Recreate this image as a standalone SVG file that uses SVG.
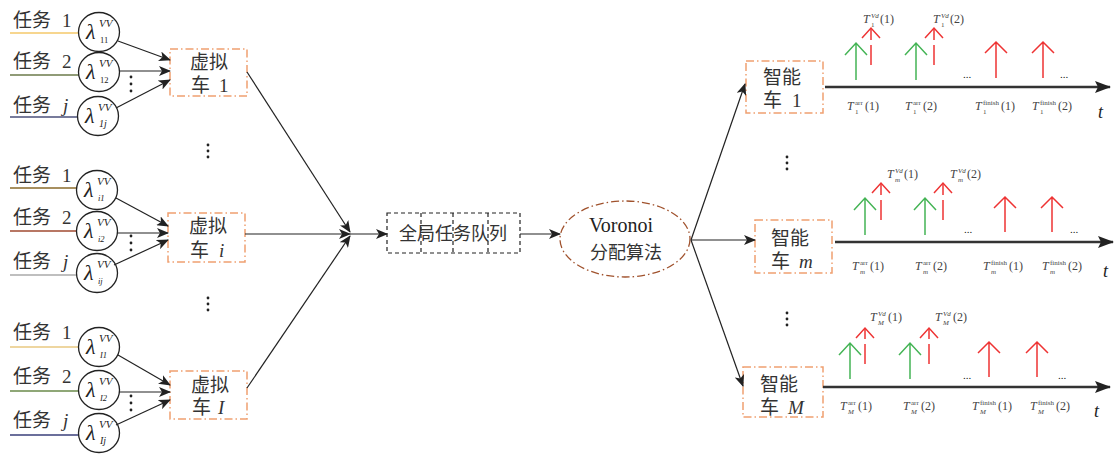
<svg xmlns="http://www.w3.org/2000/svg" width="1115" height="455" viewBox="0 0 1115 455">
<defs>
<style>
.cjk{font-family:"Liberation Serif","Noto Sans CJK SC",serif;font-size:18px;fill:#333}
.tk{font-size:19px}
.ser{font-family:"Liberation Serif","DejaVu Serif",serif;fill:#222}
.it{font-style:italic}
.sm{font-size:7px}
.lbl{font-size:12px;fill:#444}
.circ{fill:#fff;stroke:#222;stroke-width:1.3}
.lam{font-size:22px}
.sup{font-size:11px}
.sub{font-size:8.5px}
.vbox{fill:#fff;stroke:#f0a070;stroke-width:1.5;stroke-dasharray:8 3 1.5 3}
.conn{stroke:#222;stroke-width:1.2;fill:none}
.grn{stroke:#44b455;stroke-width:1.5;fill:none}
.red{stroke:#ee3333;stroke-width:1.5;fill:none}
.redd{stroke:#ee3333;stroke-width:1.5;fill:none}
.axis{stroke:#333;stroke-width:2.5;fill:none}
</style>
<marker id="ah" viewBox="0 0 12 10" refX="11" refY="5" markerWidth="12" markerHeight="10" markerUnits="userSpaceOnUse" orient="auto">
<path d="M0,0 L12,5 L0,10 L3,5 z" fill="#222"/>
</marker>
<marker id="ahb" viewBox="0 0 16 12" refX="15" refY="6" markerWidth="16" markerHeight="12" markerUnits="userSpaceOnUse" orient="auto">
<path d="M0,0 L16,6 L0,12 L3,6 z" fill="#222"/>
</marker>
</defs>
<rect width="1115" height="455" fill="#fff"/>

<!-- task lines -->
<g id="task-lines" stroke-width="1.5">
<line x1="10" y1="33" x2="79" y2="33" stroke="#f5c96a"/>
<line x1="10" y1="75" x2="79" y2="75" stroke="#6b7a4a"/>
<line x1="10" y1="117" x2="79" y2="117" stroke="#4a4f7a"/>
<line x1="10" y1="188" x2="78" y2="188" stroke="#8a6a2a"/>
<line x1="10" y1="231" x2="78" y2="231" stroke="#a04a30"/>
<line x1="10" y1="275" x2="78" y2="275" stroke="#aaaaaa"/>
<line x1="10" y1="347" x2="80" y2="347" stroke="#e8c880"/>
<line x1="10" y1="391" x2="80" y2="391" stroke="#6a8a4a"/>
<line x1="10" y1="435" x2="80" y2="435" stroke="#3a3f7a"/>
</g>
<g id="task-labels" class="cjk tk">
<text x="13" y="27">任务<tspan x="62">1</tspan></text>
<text x="13" y="68">任务<tspan x="62">2</tspan></text>
<text x="13" y="112">任务<tspan x="63" class="it">j</tspan></text>
<text x="13" y="182">任务<tspan x="62">1</tspan></text>
<text x="13" y="224">任务<tspan x="62">2</tspan></text>
<text x="13" y="268">任务<tspan x="63" class="it">j</tspan></text>
<text x="13" y="339">任务<tspan x="62">1</tspan></text>
<text x="13" y="383">任务<tspan x="62">2</tspan></text>
<text x="13" y="427">任务<tspan x="63" class="it">j</tspan></text>
</g>

<!-- lambda nodes -->
<g id="lam-11"><ellipse class="circ" cx="99" cy="32" rx="20.5" ry="19.5"/><text class="ser it lam" x="86" y="39">λ</text><text class="ser it sup" x="99" y="27">VV</text><text class="ser sub" x="100" y="43">11</text></g>
<g id="lam-12"><ellipse class="circ" cx="99" cy="72" rx="20.5" ry="19.5"/><text class="ser it lam" x="86" y="79">λ</text><text class="ser it sup" x="99" y="67">VV</text><text class="ser sub" x="100" y="83">12</text></g>
<g id="lam-1j"><ellipse class="circ" cx="98" cy="116" rx="20.5" ry="19.5"/><text class="ser it lam" x="85" y="123">λ</text><text class="ser it sup" x="98" y="111">VV</text><text class="ser it" x="99" y="127" font-size="10">1j</text></g>

<g id="lam-i1"><ellipse class="circ" cx="97" cy="190" rx="20.5" ry="19.5"/><text class="ser it lam" x="84" y="197">λ</text><text class="ser it sup" x="97" y="185">VV</text><text class="ser it sub" x="98" y="201">i1</text></g>
<g id="lam-i2"><ellipse class="circ" cx="97" cy="231" rx="20.5" ry="19.5"/><text class="ser it lam" x="84" y="238">λ</text><text class="ser it sup" x="97" y="226">VV</text><text class="ser it sub" x="98" y="242">i2</text></g>
<g id="lam-ij"><ellipse class="circ" cx="97" cy="273" rx="20.5" ry="19.5"/><text class="ser it lam" x="84" y="280">λ</text><text class="ser it sup" x="97" y="268">VV</text><text class="ser it sub" x="98" y="284">ij</text></g>

<g id="lam-I1"><ellipse class="circ" cx="99" cy="347" rx="20.5" ry="19.5"/><text class="ser it lam" x="86" y="354">λ</text><text class="ser it sup" x="99" y="342">VV</text><text class="ser it sub" x="100" y="358">I1</text></g>
<g id="lam-I2"><ellipse class="circ" cx="99" cy="390" rx="20.5" ry="19.5"/><text class="ser it lam" x="86" y="397">λ</text><text class="ser it sup" x="99" y="385">VV</text><text class="ser it sub" x="100" y="401">I2</text></g>
<g id="lam-Ij"><ellipse class="circ" cx="99" cy="433" rx="20.5" ry="19.5"/><text class="ser it lam" x="86" y="440">λ</text><text class="ser it sup" x="99" y="428">VV</text><text class="ser it" x="100" y="444" font-size="10">Ij</text></g>

<!-- vertical dots -->
<g id="vdots" fill="#222">
<circle cx="131" cy="77" r="1.4"/><circle cx="131" cy="84" r="1.4"/><circle cx="131" cy="91" r="1.4"/>
<circle cx="131" cy="236" r="1.4"/><circle cx="131" cy="243" r="1.4"/><circle cx="131" cy="250" r="1.4"/>
<circle cx="131" cy="396" r="1.4"/><circle cx="131" cy="403" r="1.4"/><circle cx="131" cy="410" r="1.4"/>
<circle cx="208" cy="145" r="1.4"/><circle cx="208" cy="151" r="1.4"/><circle cx="208" cy="157" r="1.4"/>
<circle cx="208" cy="298" r="1.4"/><circle cx="208" cy="304" r="1.4"/><circle cx="208" cy="310" r="1.4"/>
<circle cx="787" cy="157" r="1.4"/><circle cx="787" cy="163" r="1.4"/><circle cx="787" cy="169" r="1.4"/>
<circle cx="787" cy="313" r="1.4"/><circle cx="787" cy="319" r="1.4"/><circle cx="787" cy="325" r="1.4"/>
</g>

<!-- virtual vehicles -->
<g id="vv-1"><rect class="vbox" x="170" y="49" width="77" height="47"/><text class="cjk tk" x="190" y="69">虚拟</text><text class="cjk tk" x="191" y="92">车<tspan x="219">1</tspan></text></g>
<g id="vv-i"><rect class="vbox" x="168" y="213" width="77" height="49"/><text class="cjk tk" x="189" y="233">虚拟</text><text class="cjk tk" x="190" y="257">车<tspan x="219" class="it">i</tspan></text></g>
<g id="vv-I"><rect class="vbox" x="170" y="371" width="77" height="48"/><text class="cjk tk" x="191" y="392">虚拟</text><text class="cjk tk" x="192" y="414">车<tspan x="218" class="it">I</tspan></text></g>

<!-- global queue -->
<g id="queue">
<rect x="387" y="213" width="133" height="40" fill="#fff" stroke="#222" stroke-width="1.2" stroke-dasharray="4 3"/>
<line x1="421" y1="213" x2="421" y2="253" stroke="#222" stroke-width="1.2" stroke-dasharray="4 3"/>
<line x1="453" y1="213" x2="453" y2="253" stroke="#222" stroke-width="1.2" stroke-dasharray="4 3"/>
<line x1="488" y1="213" x2="488" y2="253" stroke="#222" stroke-width="1.2" stroke-dasharray="4 3"/>
<text class="cjk" x="453" y="240" text-anchor="middle">全局任务队列</text>
</g>

<!-- voronoi -->
<g id="voronoi">
<ellipse cx="625" cy="239" rx="65" ry="38" fill="#fff" stroke="#a0522d" stroke-width="1.3" stroke-dasharray="8 3 1.5 3"/>
<text class="ser" x="621" y="232" font-size="20" text-anchor="middle" fill="#333">Voronoi</text>
<text class="cjk" x="626" y="259" font-size="20" text-anchor="middle">分配算法</text>
</g>

<!-- smart vehicles -->
<g id="sv-1"><rect class="vbox" x="746" y="61" width="77" height="52"/><text class="cjk tk" x="763" y="84">智能</text><text class="cjk tk" x="763" y="107">车<tspan x="792">1</tspan></text></g>
<g id="sv-m"><rect class="vbox" x="755" y="220" width="77" height="53"/><text class="cjk tk" x="771" y="245">智能</text><text class="cjk tk" x="771" y="268">车<tspan x="799" class="it">m</tspan></text></g>
<g id="sv-M"><rect class="vbox" x="743" y="367" width="80" height="50"/><text class="cjk tk" x="760" y="391">智能</text><text class="cjk tk" x="760" y="414">车<tspan x="788" class="it">M</tspan></text></g>

<!-- connectors -->
<g id="connectors" class="conn">
<line x1="118" y1="41" x2="170" y2="60" marker-end="url(#ah)"/>
<line x1="119" y1="71" x2="170" y2="71" marker-end="url(#ah)"/>
<line x1="116" y1="108" x2="170" y2="80" marker-end="url(#ah)"/>
<line x1="116" y1="198" x2="168" y2="226" marker-end="url(#ah)"/>
<line x1="117" y1="233" x2="168" y2="233" marker-end="url(#ah)"/>
<line x1="114" y1="265" x2="168" y2="240" marker-end="url(#ah)"/>
<line x1="118" y1="355" x2="170" y2="385" marker-end="url(#ah)"/>
<line x1="119" y1="392" x2="170" y2="392" marker-end="url(#ah)"/>
<line x1="116" y1="425" x2="170" y2="400" marker-end="url(#ah)"/>
<line x1="247" y1="72" x2="350" y2="232" marker-end="url(#ah)"/>
<line x1="245" y1="234" x2="350" y2="234" marker-end="url(#ah)"/>
<line x1="247" y1="388" x2="350" y2="236" marker-end="url(#ah)"/>
<line x1="350" y1="234" x2="387" y2="234" marker-end="url(#ah)"/>
<line x1="520" y1="234" x2="560" y2="234" marker-end="url(#ah)"/>
<line x1="691" y1="240" x2="745" y2="84" marker-end="url(#ah)"/>
<line x1="691" y1="240" x2="755" y2="240" marker-end="url(#ah)"/>
<line x1="691" y1="240" x2="743" y2="386" marker-end="url(#ah)"/>
</g>

<!-- timelines -->
<g id="timeline-1">
<line class="axis" x1="825" y1="87" x2="1110" y2="87" marker-end="url(#ahb)"/>
<path class="grn" d="M856,80 V43 M845,55 L856,43 L867,55 M916,80 V43 M905,55 L916,43 L927,55"/>
<path class="redd" d="M871,65 V28 M934,65 V28" stroke-dasharray="20 5 15"/>
<path class="red" d="M862,38 L871,28 L880,38 M925,38 L934,28 L943,38"/>
<path class="red" d="M996,78 V42 M985,53 L996,42 L1007,53 M1043,78 V42 M1032,53 L1043,42 L1054,53"/>
<text class="ser" x="963" y="78" font-size="11">...</text>
<text class="ser" x="1060" y="78" font-size="11">...</text>
<text class="ser lbl" y="23"><tspan x="863" class="it">T</tspan><tspan x="871" dy="-5" class="sm it">Vd</tspan><tspan x="871" dy="9" class="sm">1</tspan><tspan x="880" dy="-4">(1)</tspan></text>
<text class="ser lbl" y="23"><tspan x="933" class="it">T</tspan><tspan x="941" dy="-5" class="sm it">Vd</tspan><tspan x="941" dy="9" class="sm">1</tspan><tspan x="950" dy="-4">(2)</tspan></text>
<text class="ser lbl" y="110"><tspan x="847" class="it">T</tspan><tspan x="855" dy="-5" class="sm">arr</tspan><tspan x="855" dy="9" class="sm">1</tspan><tspan x="865" dy="-4">(1)</tspan></text>
<text class="ser lbl" y="110"><tspan x="905" class="it">T</tspan><tspan x="913" dy="-5" class="sm">arr</tspan><tspan x="913" dy="9" class="sm">1</tspan><tspan x="923" dy="-4">(2)</tspan></text>
<text class="ser lbl" y="110"><tspan x="975" class="it">T</tspan><tspan x="983" dy="-5" class="sm">finish</tspan><tspan x="983" dy="9" class="sm">1</tspan><tspan x="1001" dy="-4">(1)</tspan></text>
<text class="ser lbl" y="110"><tspan x="1032" class="it">T</tspan><tspan x="1040" dy="-5" class="sm">finish</tspan><tspan x="1040" dy="9" class="sm">1</tspan><tspan x="1058" dy="-4">(2)</tspan></text>
<text class="ser it" x="1098" y="118" font-size="18">t</text>
</g>

<g id="timeline-m">
<line class="axis" x1="835" y1="242" x2="1113" y2="242" marker-end="url(#ahb)"/>
<path class="grn" d="M865,235 V198 M854,210 L865,198 L876,210 M925,235 V198 M914,210 L925,198 L936,210"/>
<path class="redd" d="M881,220 V183 M943,220 V183" stroke-dasharray="20 5 15"/>
<path class="red" d="M872,193 L881,183 L890,193 M934,193 L943,183 L952,193"/>
<path class="red" d="M1005,232 V197 M994,208 L1005,197 L1016,208 M1052,232 V197 M1041,208 L1052,197 L1063,208"/>
<text class="ser" x="964" y="233" font-size="11">...</text>
<text class="ser" x="1070" y="233" font-size="11">...</text>
<text class="ser lbl" y="178"><tspan x="887" class="it">T</tspan><tspan x="895" dy="-5" class="sm it">Vd</tspan><tspan x="895" dy="9" class="sm it">m</tspan><tspan x="904" dy="-4">(1)</tspan></text>
<text class="ser lbl" y="178"><tspan x="950" class="it">T</tspan><tspan x="958" dy="-5" class="sm it">Vd</tspan><tspan x="958" dy="9" class="sm it">m</tspan><tspan x="967" dy="-4">(2)</tspan></text>
<text class="ser lbl" y="270"><tspan x="852" class="it">T</tspan><tspan x="860" dy="-5" class="sm">arr</tspan><tspan x="860" dy="9" class="sm it">m</tspan><tspan x="870" dy="-4">(1)</tspan></text>
<text class="ser lbl" y="270"><tspan x="915" class="it">T</tspan><tspan x="923" dy="-5" class="sm">arr</tspan><tspan x="923" dy="9" class="sm it">m</tspan><tspan x="933" dy="-4">(2)</tspan></text>
<text class="ser lbl" y="270"><tspan x="983" class="it">T</tspan><tspan x="991" dy="-5" class="sm">finish</tspan><tspan x="991" dy="9" class="sm it">m</tspan><tspan x="1009" dy="-4">(1)</tspan></text>
<text class="ser lbl" y="270"><tspan x="1042" class="it">T</tspan><tspan x="1050" dy="-5" class="sm">finish</tspan><tspan x="1050" dy="9" class="sm it">m</tspan><tspan x="1068" dy="-4">(2)</tspan></text>
<text class="ser it" x="1103" y="277" font-size="18">t</text>
</g>

<g id="timeline-M">
<line class="axis" x1="823" y1="387" x2="1110" y2="387" marker-end="url(#ahb)"/>
<path class="grn" d="M850,379 V343 M839,355 L850,343 L861,355 M910,379 V343 M899,355 L910,343 L921,355"/>
<path class="redd" d="M865,364 V328 M929,364 V328" stroke-dasharray="20 5 15"/>
<path class="red" d="M856,338 L865,328 L874,338 M920,338 L929,328 L938,338"/>
<path class="red" d="M989,377 V342 M978,353 L989,342 L1000,353 M1037,377 V342 M1026,353 L1037,342 L1048,353"/>
<text class="ser" x="963" y="379" font-size="11">...</text>
<text class="ser" x="1058" y="379" font-size="11">...</text>
<text class="ser lbl" y="321"><tspan x="870" class="it">T</tspan><tspan x="878" dy="-5" class="sm it">Vd</tspan><tspan x="878" dy="9" class="sm it">M</tspan><tspan x="888" dy="-4">(1)</tspan></text>
<text class="ser lbl" y="321"><tspan x="935" class="it">T</tspan><tspan x="943" dy="-5" class="sm it">Vd</tspan><tspan x="943" dy="9" class="sm it">M</tspan><tspan x="953" dy="-4">(2)</tspan></text>
<text class="ser lbl" y="410"><tspan x="840" class="it">T</tspan><tspan x="848" dy="-5" class="sm">arr</tspan><tspan x="848" dy="9" class="sm it">M</tspan><tspan x="858" dy="-4">(1)</tspan></text>
<text class="ser lbl" y="410"><tspan x="903" class="it">T</tspan><tspan x="911" dy="-5" class="sm">arr</tspan><tspan x="911" dy="9" class="sm it">M</tspan><tspan x="921" dy="-4">(2)</tspan></text>
<text class="ser lbl" y="410"><tspan x="972" class="it">T</tspan><tspan x="980" dy="-5" class="sm">finish</tspan><tspan x="980" dy="9" class="sm it">M</tspan><tspan x="998" dy="-4">(1)</tspan></text>
<text class="ser lbl" y="410"><tspan x="1030" class="it">T</tspan><tspan x="1038" dy="-5" class="sm">finish</tspan><tspan x="1038" dy="9" class="sm it">M</tspan><tspan x="1056" dy="-4">(2)</tspan></text>
<text class="ser it" x="1094" y="417" font-size="18">t</text>
</g>
</svg>
